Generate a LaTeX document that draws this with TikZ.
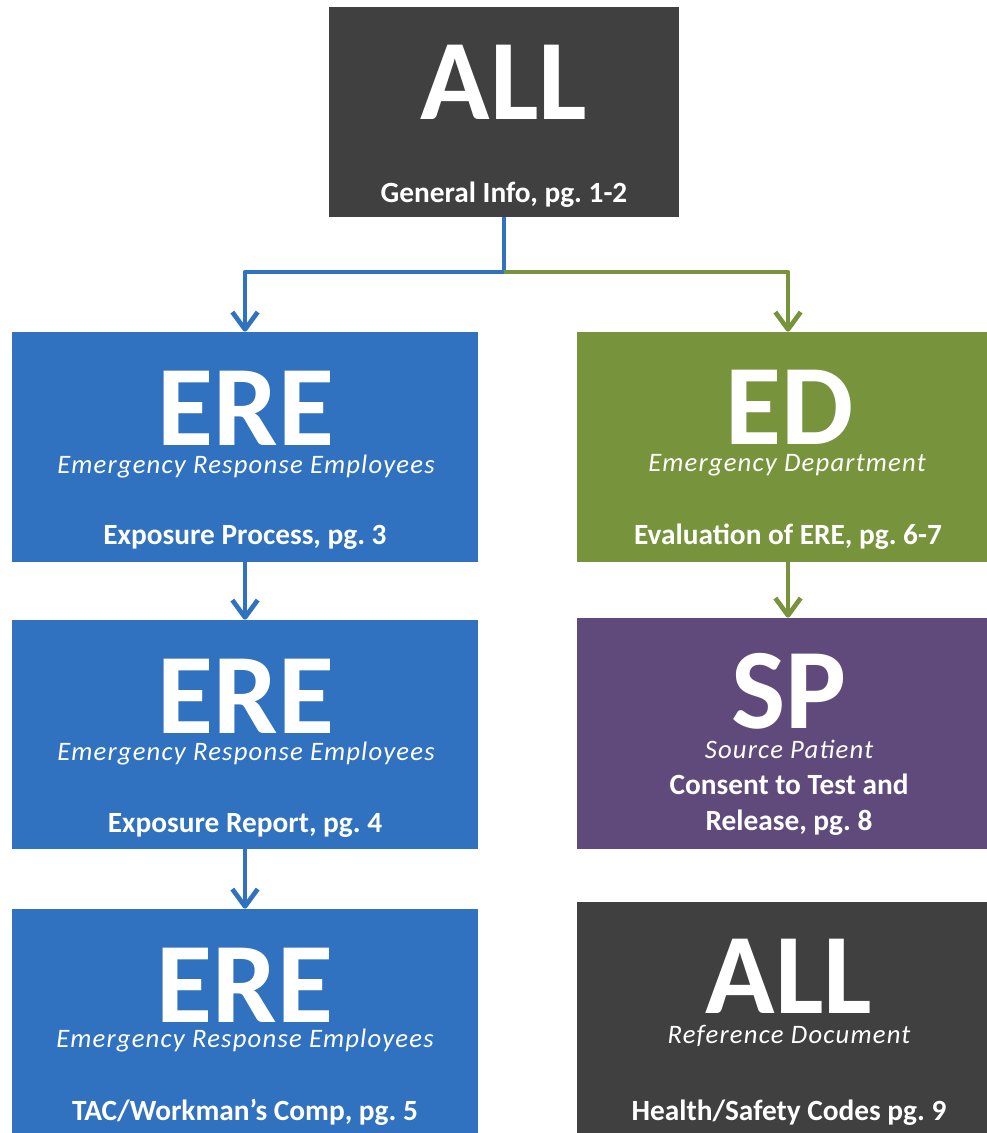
\documentclass[tikz,border=0pt]{standalone}
\usepackage{fontspec}
\setmainfont{Carlito}
\newfontfamily\subfont[LetterSpace=4.5]{Carlito}
\usetikzlibrary{arrows.meta}

\definecolor{allgray}{HTML}{404040}
\definecolor{ereblue}{HTML}{3071C0}
\definecolor{edgreen}{HTML}{77933C}
\definecolor{sppurple}{HTML}{604A7B}

\tikzset{
  box/.style={rectangle, inner sep=0pt, minimum width=#1},
  big/.style={anchor=base, inner sep=0pt, text=white, font=\fontsize{86}{86}\selectfont\bfseries},
  sub/.style={anchor=base, inner sep=0pt, text=white, font=\subfont\fontsize{20}{22}\selectfont\itshape},
  info/.style={anchor=base, inner sep=0pt, text=white, font=\frenchspacing\fontsize{22}{24}\selectfont\bfseries},
  link/.style={line width=3.5pt, line join=round, -{Straight Barb[length=13pt,width=19pt,line join=round]}}
}

\begin{document}
\begin{tikzpicture}[x=0.75pt, y=-0.75pt]

  \useasboundingbox (0,0) rectangle (987,1133);
  \clip (0,0) rectangle (987,1133);

  % boxes
  \node[box=262.5pt, minimum height=157.5pt, fill=allgray]  (all)  at (504,112)    {};
  \node[box=349.5pt, minimum height=172.5pt, fill=ereblue]  (ere1) at (245,447)    {};
  \node[box=316.5pt, minimum height=172.5pt, fill=edgreen]  (ed)   at (788,447)    {};
  \node[box=349.5pt, minimum height=171.75pt, fill=ereblue] (ere2) at (245,734.5)  {};
  \node[box=316.5pt, minimum height=173.25pt, fill=sppurple](sp)   at (788,733.5)  {};
  \node[box=349.5pt, minimum height=173.25pt, fill=ereblue] (ere3) at (245,1024.5) {};
  \node[box=316.5pt, minimum height=178.5pt, fill=allgray]  (ref)  at (788,1021)   {};

  % texts
  \node[big]  (allA)  at (504,119)  {ALL};
  \node[info] (allI)  at (504,202)  {General Info, pg. 1-2};

  \node[big]  (ere1A) at (246,445)  {ERE};
  \node[sub]  (ere1S) at (246,473)  {Emergency Response Employees};
  \node[info] (ere1I) at (245,544)  {Exposure Process, pg. 3};

  \node[big]  (edA)   at (790,444)  {ED};
  \node[sub]  (edS)   at (787,471)  {Emergency Department};
  \node[info] (edI)   at (788,544)  {Evaluation of ERE, pg. 6-7};

  \node[big]  (ere2A) at (246,733)  {ERE};
  \node[sub]  (ere2S) at (246,760)  {Emergency Response Employees};
  \node[info] (ere2I) at (245,832)  {Exposure Report, pg. 4};

  \node[big]  (spA)   at (789,728)  {SP};
  \node[sub]  (spS)   at (789,758)  {Source Patient};
  \node[info] (spI)   at (789,794)  {Consent to Test and};
  \node[info] (spI2)  at (789,830)  {Release, pg. 8};

  \node[big]  (ere3A) at (245,1022) {ERE};
  \node[sub]  (ere3S) at (245,1047) {Emergency Response Employees};
  \node[info] (ere3I) at (245,1120) {TAC/Workman’s Comp, pg. 5};

  \node[big]  (refA)  at (789,1013) {ALL};
  \node[sub]  (refS)  at (789,1043) {Reference Document};
  \node[info] (refI)  at (789,1120) {Health/Safety Codes pg. 9};

  % arrows
  \coordinate (split) at (504,272);
  \draw[link, ereblue] (all.south) -- (split) -| (ere1.north);
  \draw[link, edgreen] (split) -| (ed.north);
  \draw[link, ereblue] (ere1.south) -- (ere2.north);
  \draw[link, ereblue] (ere2.south) -- (ere3.north);
  \draw[link, edgreen] (ed.south) -- (sp.north);

\end{tikzpicture}
\end{document}
